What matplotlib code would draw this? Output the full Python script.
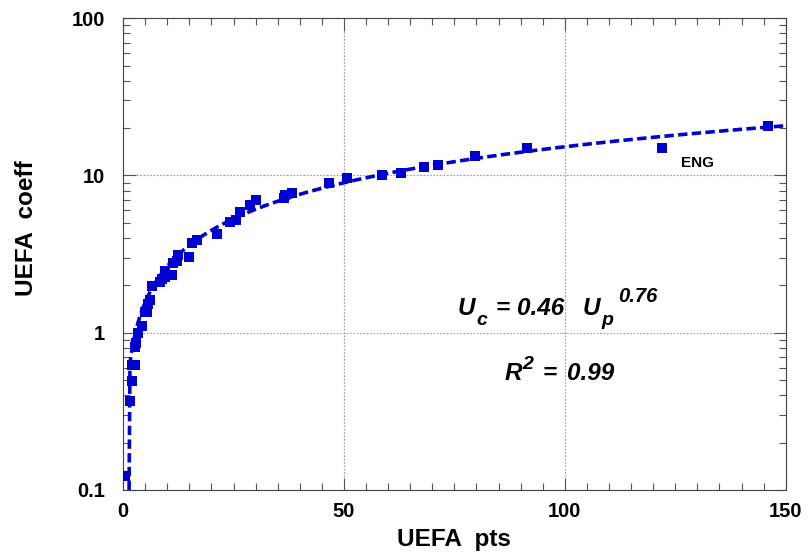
import numpy as np
import matplotlib
matplotlib.use("Agg")
from matplotlib import pyplot as plt
from matplotlib.ticker import MultipleLocator, LogLocator, NullFormatter, FixedLocator

plt.rcParams['font.family'] = ['Liberation Sans', 'DejaVu Sans']
plt.rcParams['font.weight'] = 'bold'

# UEFA points vs coefficient
uefa_pts = [0.45, 1.6, 2.0, 2.0, 2.6, 2.7, 2.9, 3.4, 4.2, 5.0, 5.5, 5.7, 6.0,
            6.5, 8.4, 8.8, 9.5, 9.5, 11.0, 11.3, 12.1, 12.5, 14.9, 15.5, 16.7,
            21.2, 24.2, 25.6, 26.5, 28.7, 30.1, 36.5, 36.7, 38.2, 46.6, 50.6,
            58.5, 63.0, 68.1, 71.3, 79.6, 91.5, 122.1, 146.0]
uefa_coeff = [0.123, 0.37, 0.49, 0.62, 0.62, 0.81, 0.86, 1.0, 1.1, 1.36, 1.36,
              1.53, 1.62, 1.97, 2.11, 2.2, 2.27, 2.48, 2.34, 2.79, 2.87, 3.1,
              3.05, 3.7, 3.9, 4.27, 5.03, 5.18, 5.9, 6.5, 7.0, 7.2, 7.5, 7.7,
              9.0, 9.6, 10.0, 10.4, 11.3, 11.7, 13.3, 15.0, 15.0, 20.6]

# power-law fit U_c = a * U_p^b, the drawn line drops steeply at its start
fit_a, fit_b = 0.46, 0.76
tail_x = [1.35]
tail_y = [0.1]

blue = '#0000d0'

fig = plt.figure(figsize=(8.1, 5.53), dpi=100)
ax = fig.add_axes([0.152, 0.114, 0.818, 0.853])

fx = np.linspace(1.55, 150, 400)
fy = fit_a * fx ** fit_b
ax.plot(np.r_[tail_x, fx], np.r_[tail_y, fy], color=blue, lw=2.6,
        dashes=(2.6, 1.2), zorder=3)
ax.plot(uefa_pts, uefa_coeff, 's', color=blue, ms=6.6, mew=0, zorder=4)

ax.set_yscale('log')
ax.set_xlim(0, 150)
ax.set_ylim(0.1, 100)

ax.xaxis.set_major_locator(MultipleLocator(50))
ax.xaxis.set_minor_locator(MultipleLocator(5))
ax.yaxis.set_major_locator(FixedLocator([0.1, 1, 10, 100]))
ax.yaxis.set_minor_locator(LogLocator(base=10, subs=np.arange(2, 10)))
ax.yaxis.set_minor_formatter(NullFormatter())
ax.set_yticklabels(['0.1', '1', '10', '100'])

ax.tick_params(which='both', direction='in', top=True, right=True,
               labelsize=14.5, width=0.8, color='#555555')
ax.tick_params(which='major', length=9)
ax.tick_params(axis='y', which='major', pad=13)
ax.tick_params(axis='x', which='major', pad=9)
ax.tick_params(which='minor', length=5)
for lab in ax.get_xticklabels() + ax.get_yticklabels():
    lab.set_fontweight('bold')
for s in ax.spines.values():
    s.set_linewidth(0.8)
    s.set_color('#444444')

ax.grid(True, which='major', linestyle=(0, (1.5, 1.5)), color='#999999', lw=0.8)

ax.set_xlabel('UEFA  pts', fontsize=17.5, fontweight='bold', labelpad=5)
ax.set_ylabel('UEFA  coeff', fontsize=17.5, fontweight='bold')
ax.yaxis.set_label_coords(-0.129, 0.555)


def put(anchor, pieces):
    # pieces: (text, dx px, dy px, size)
    for s, dx, dy, size in pieces:
        ax.annotate(s, xy=anchor, xytext=(dx, dy), textcoords='offset pixels',
                    fontsize=size, fontweight='bold', fontstyle='italic',
                    ha='left', va='baseline')


put((75.8, 1.30), [('U', 0, 0, 17.5), ('c', 18, -10, 14), ('=', 38, 0, 17.5),
                   ('0.46', 59, 0, 17.5), ('U', 125, 0, 17.5),
                   ('p', 143, -10, 14), ('0.76', 160, 13, 14.5)])
put((86.4, 0.502), [('R', 0, 0, 17.5), ('2', 18, 11, 14), ('=', 38, 0, 17.5),
                    ('0.99', 62, 0, 17.5)])

ax.annotate('ENG', xy=(126.2, 11.4), fontsize=11, fontweight='bold',
            ha='left', va='baseline')

fig.savefig('out.png', dpi=100)
